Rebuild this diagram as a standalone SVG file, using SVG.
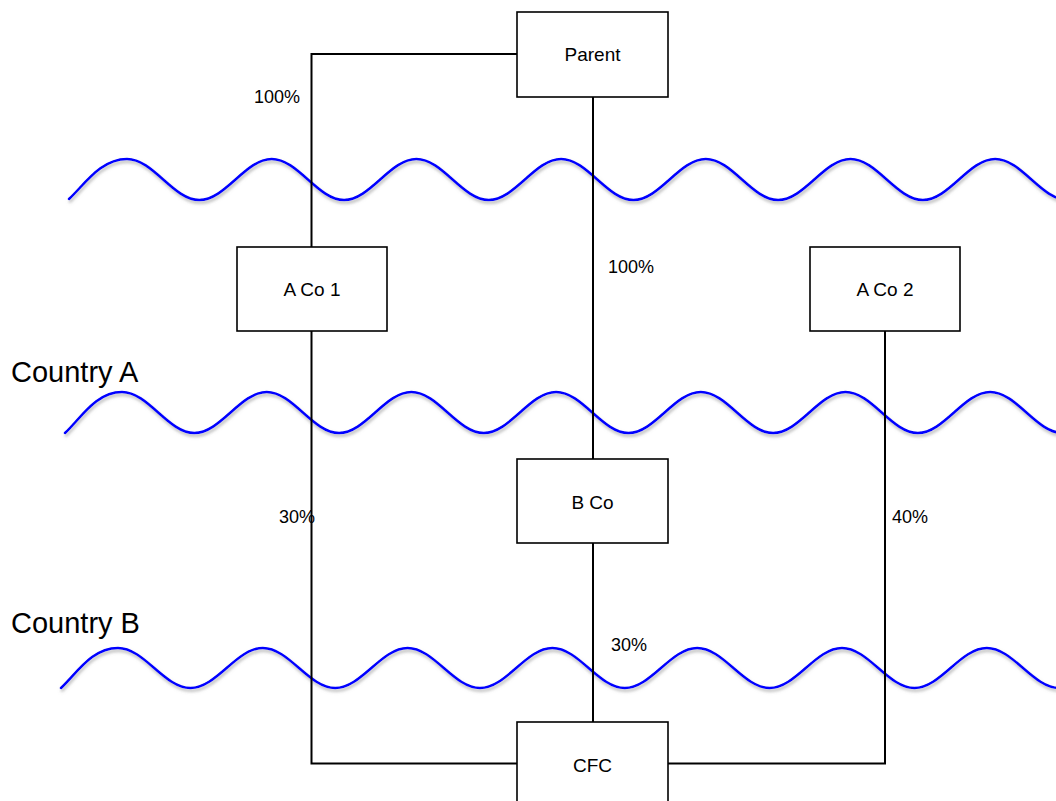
<svg xmlns="http://www.w3.org/2000/svg" width="1056" height="801" viewBox="0 0 1056 801">
<style>
.box{fill:#fff;stroke:#000;stroke-width:1.6}
.lbl{font-family:"Liberation Sans",Arial,sans-serif;font-size:19px;fill:#000;text-anchor:middle}
.pct{font-family:"Liberation Sans",Arial,sans-serif;font-size:18px;fill:#000}
.country{font-family:"Liberation Sans",Arial,sans-serif;font-size:29px;fill:#000}
.wave{fill:none;stroke:#0000ff;stroke-width:2.5;stroke-linecap:round}
.conn{fill:none;stroke:#000;stroke-width:2}
</style>
<defs>
<filter id="sh" x="-5%" y="-30%" width="110%" height="160%">
<feDropShadow dx="1" dy="2.5" stdDeviation="1.5" flood-color="#777" flood-opacity="0.55"/>
</filter>
</defs>
<rect width="1056" height="801" fill="#fff"/>
<g id="waves" filter="url(#sh)">
<path class="wave" d="M 69 199 C 85 184 100.7 159 127 159 S 173.05 200 199.35 200 S 245.4 159 271.7 159 S 317.75 200 344.05 200 S 390.1 159 416.4 159 S 462.45 200 488.75 200 S 534.8 159 561.1 159 S 607.15 200 633.45 200 S 679.5 159 705.8 159 S 751.85 200 778.15 200 S 824.2 159 850.5 159 S 896.55 200 922.85 200 S 968.9 159 995.2 159 S 1041.25 200 1067.55 200"/>
<path class="wave" d="M 65 433 C 81 418 95.7 392 122 392 S 168.05 433 194.35 433 S 240.4 392 266.7 392 S 312.75 433 339.05 433 S 385.1 392 411.4 392 S 457.45 433 483.75 433 S 529.8 392 556.1 392 S 602.15 433 628.45 433 S 674.5 392 700.8 392 S 746.85 433 773.15 433 S 819.2 392 845.5 392 S 891.55 433 917.85 433 S 963.9 392 990.2 392 S 1036.25 433 1062.55 433"/>
<path class="wave" d="M 61 688 C 77 673 91.7 648 118 648 S 164.1 688 190.4 688 S 236.5 648 262.8 648 S 308.9 688 335.2 688 S 381.3 648 407.6 648 S 453.7 688 480 688 S 526.1 648 552.4 648 S 598.5 688 624.8 688 S 670.9 648 697.2 648 S 743.3 688 769.6 688 S 815.7 648 842 648 S 888.1 688 914.4 688 S 960.5 648 986.8 648 S 1032.9 688 1059.2 688"/>
</g>
<g id="connectors">
<polyline class="conn" points="517,54 311.5,54 311.5,247"/>
<line class="conn" x1="593" y1="97" x2="593" y2="459"/>
<polyline class="conn" points="311.5,331 311.5,763.5 517,763.5"/>
<line class="conn" x1="593" y1="543" x2="593" y2="722"/>
<polyline class="conn" points="885,331 885,763.5 668,763.5"/>
</g>
<g id="labels">
<text class="pct" x="254" y="103">100%</text>
<text class="pct" x="608" y="273">100%</text>
<text class="pct" x="279" y="523">30%</text>
<text class="pct" x="892" y="523">40%</text>
<text class="pct" x="611" y="651">30%</text>
<text class="country" x="11" y="382">Country A</text>
<text class="country" x="11" y="633">Country B</text>
</g>
<g id="parent"><rect class="box" x="517" y="12" width="151" height="85"/><text class="lbl" x="592.5" y="61">Parent</text></g>
<g id="aco1"><rect class="box" x="237" y="247" width="150" height="84"/><text class="lbl" x="312" y="296">A Co 1</text></g>
<g id="aco2"><rect class="box" x="810" y="247" width="150" height="84"/><text class="lbl" x="885" y="296">A Co 2</text></g>
<g id="bco"><rect class="box" x="517" y="459" width="151" height="84"/><text class="lbl" x="592.5" y="509">B Co</text></g>
<g id="cfc"><rect class="box" x="517" y="722" width="151" height="85"/><text class="lbl" x="592.5" y="772">CFC</text></g>
</svg>
